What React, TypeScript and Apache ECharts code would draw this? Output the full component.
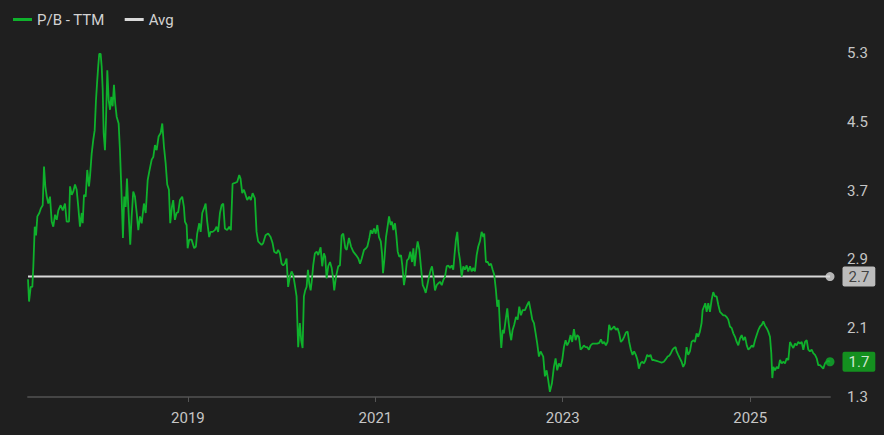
import React, { useEffect, useRef } from "react";
import * as echarts from "echarts";

// P/B - TTM readings: [decimal year, value]
const pbSeries: [number, number][] = [
  [2017.292,2.67],[2017.303,2.41],[2017.321,2.58],[2017.338,2.58],[2017.349,2.82],[2017.364,3.28],[2017.378,3.18],[2017.392,3.40],[2017.413,3.44],[2017.428,3.49],
  [2017.449,3.53],[2017.463,3.98],[2017.477,3.75],[2017.492,3.63],[2017.509,3.55],[2017.527,3.63],[2017.545,3.34],[2017.562,3.28],[2017.581,3.42],[2017.599,3.36],
  [2017.616,3.47],[2017.641,3.53],[2017.663,3.47],[2017.687,3.55],[2017.705,3.34],[2017.730,3.34],[2017.741,3.75],[2017.759,3.65],[2017.776,3.69],[2017.794,3.77],
  [2017.812,3.71],[2017.829,3.51],[2017.847,3.28],[2017.866,3.44],[2017.876,3.32],[2017.890,3.65],[2017.908,3.63],[2017.925,3.94],[2017.943,3.75],[2017.954,3.86],
  [2017.972,4.13],[2017.989,4.29],[2018.004,4.40],[2018.018,4.75],[2018.032,4.99],[2018.043,5.16],[2018.053,5.29],[2018.068,5.29],[2018.079,5.14],[2018.090,4.87],
  [2018.100,4.37],[2018.114,4.17],[2018.125,4.52],[2018.139,5.10],[2018.154,4.75],[2018.168,4.64],[2018.181,4.79],[2018.196,4.68],[2018.210,4.93],[2018.224,4.71],
  [2018.239,4.56],[2018.260,4.48],[2018.274,4.17],[2018.288,3.75],[2018.306,3.15],[2018.320,3.63],[2018.335,3.51],[2018.349,3.84],[2018.363,3.51],[2018.384,3.07],
  [2018.399,3.40],[2018.416,3.69],[2018.434,3.63],[2018.453,3.44],[2018.470,3.24],[2018.488,3.40],[2018.506,3.32],[2018.530,3.55],[2018.549,3.44],[2018.570,3.82],
  [2018.587,3.92],[2018.613,4.06],[2018.630,4.09],[2018.648,4.23],[2018.666,4.17],[2018.687,4.33],[2018.709,4.37],[2018.726,4.48],[2018.744,4.21],[2018.762,4.02],
  [2018.779,3.77],[2018.797,3.71],[2018.811,3.32],[2018.829,3.51],[2018.843,3.59],[2018.861,3.36],[2018.879,3.44],[2018.896,3.45],[2018.915,3.59],[2018.939,3.63],
  [2018.957,3.51],[2018.968,3.34],[2018.986,3.30],[2018.997,3.03],[2019.014,3.13],[2019.039,3.13],[2019.067,3.03],[2019.085,3.05],[2019.099,3.20],[2019.121,3.32],
  [2019.136,3.22],[2019.153,3.44],[2019.171,3.49],[2019.189,3.55],[2019.206,3.34],[2019.227,3.16],[2019.242,3.22],[2019.264,3.22],[2019.288,3.24],[2019.306,3.28],
  [2019.323,3.22],[2019.342,3.44],[2019.360,3.53],[2019.377,3.55],[2019.395,3.26],[2019.419,3.24],[2019.441,3.28],[2019.459,3.24],[2019.477,3.78],[2019.502,3.79],
  [2019.526,3.80],[2019.548,3.88],[2019.562,3.84],[2019.580,3.67],[2019.598,3.71],[2019.616,3.65],[2019.633,3.59],[2019.654,3.63],[2019.672,3.59],[2019.691,3.67],
  [2019.715,3.61],[2019.733,3.22],[2019.750,3.11],[2019.768,3.09],[2019.787,3.07],[2019.804,3.09],[2019.829,3.18],[2019.857,3.20],[2019.883,3.16],[2019.904,3.09],
  [2019.921,2.99],[2019.947,2.97],[2019.964,3.01],[2019.982,2.97],[2020.000,2.85],[2020.017,2.83],[2020.035,2.85],[2020.053,2.91],[2020.070,2.58],[2020.089,2.70],
  [2020.107,2.76],[2020.124,2.72],[2020.142,2.60],[2020.160,2.47],[2020.177,1.88],[2020.195,2.16],[2020.209,1.96],[2020.224,1.87],[2020.238,2.47],[2020.252,2.54],
  [2020.267,2.58],[2020.281,2.78],[2020.295,2.62],[2020.310,2.54],[2020.323,2.66],[2020.337,2.83],[2020.355,2.97],[2020.374,2.99],[2020.391,2.95],[2020.416,3.04],
  [2020.433,2.82],[2020.451,2.97],[2020.465,2.93],[2020.480,2.68],[2020.497,2.82],[2020.516,2.87],[2020.534,2.80],[2020.551,2.66],[2020.561,2.54],[2020.580,2.70],
  [2020.604,2.82],[2020.622,2.83],[2020.640,3.18],[2020.657,3.20],[2020.679,3.03],[2020.694,3.01],[2020.718,3.15],[2020.740,3.05],[2020.764,2.99],[2020.793,2.95],
  [2020.818,2.91],[2020.836,2.85],[2020.854,2.91],[2020.878,3.01],[2020.900,3.03],[2020.914,3.05],[2020.935,3.15],[2020.950,3.24],[2020.967,3.20],[2020.985,3.26],
  [2021.003,3.20],[2021.020,3.30],[2021.038,3.16],[2021.057,3.11],[2021.070,2.97],[2021.081,2.74],[2021.095,2.89],[2021.113,3.16],[2021.127,3.26],[2021.145,3.40],
  [2021.163,3.30],[2021.177,3.34],[2021.191,3.24],[2021.209,3.32],[2021.223,3.18],[2021.238,2.99],[2021.255,2.93],[2021.273,2.95],[2021.287,2.83],[2021.305,2.60],
  [2021.319,2.70],[2021.337,2.89],[2021.355,2.91],[2021.372,2.99],[2021.391,2.87],[2021.405,3.03],[2021.419,2.82],[2021.437,3.01],[2021.451,3.11],[2021.469,3.01],
  [2021.487,2.80],[2021.505,2.60],[2021.522,2.56],[2021.537,2.51],[2021.554,2.60],[2021.572,2.70],[2021.590,2.78],[2021.604,2.82],[2021.618,2.72],[2021.636,2.54],
  [2021.654,2.60],[2021.671,2.62],[2021.689,2.64],[2021.708,2.60],[2021.725,2.66],[2021.743,2.70],[2021.761,2.82],[2021.778,2.83],[2021.796,2.80],[2021.814,2.83],
  [2021.831,2.78],[2021.846,2.97],[2021.860,3.13],[2021.874,3.22],[2021.889,2.99],[2021.903,2.89],[2021.921,2.70],[2021.938,2.82],[2021.956,2.78],[2021.974,2.83],
  [2021.991,2.76],[2022.010,2.82],[2022.028,2.76],[2022.045,2.80],[2022.063,2.76],[2022.081,2.95],[2022.098,3.05],[2022.116,3.11],[2022.134,3.22],[2022.152,3.16],
  [2022.162,3.20],[2022.180,2.87],[2022.199,2.87],[2022.216,2.83],[2022.234,2.85],[2022.252,2.78],[2022.269,2.72],[2022.287,2.54],[2022.301,2.35],[2022.316,2.43],
  [2022.330,2.12],[2022.344,1.87],[2022.359,2.08],[2022.372,2.04],[2022.391,2.20],[2022.408,2.33],[2022.423,2.16],[2022.437,2.04],[2022.450,1.96],[2022.465,2.08],
  [2022.482,2.14],[2022.501,2.23],[2022.519,2.20],[2022.536,2.35],[2022.554,2.25],[2022.572,2.31],[2022.597,2.31],[2022.621,2.37],[2022.639,2.41],[2022.657,2.31],
  [2022.675,2.20],[2022.693,2.16],[2022.711,2.04],[2022.728,1.92],[2022.746,1.77],[2022.764,1.83],[2022.792,1.77],[2022.810,1.54],[2022.828,1.61],[2022.845,1.50],
  [2022.863,1.36],[2022.885,1.46],[2022.906,1.65],[2022.924,1.75],[2022.941,1.61],[2022.959,1.69],[2022.978,1.65],[2022.995,1.73],[2023.013,1.88],[2023.031,1.96],
  [2023.048,1.90],[2023.066,1.94],[2023.084,2.02],[2023.101,1.94],[2023.120,2.09],[2023.138,1.96],[2023.155,2.02],[2023.173,2.00],[2023.191,1.85],[2023.208,1.87],
  [2023.226,1.90],[2023.244,1.88],[2023.261,1.88],[2023.280,1.85],[2023.298,1.90],[2023.319,1.92],[2023.344,1.92],[2023.368,1.92],[2023.390,1.93],[2023.408,1.97],
  [2023.426,1.92],[2023.443,1.94],[2023.461,1.90],[2023.479,1.94],[2023.496,2.14],[2023.514,2.08],[2023.533,2.10],[2023.550,2.12],[2023.568,2.08],[2023.586,2.10],
  [2023.603,2.04],[2023.621,1.94],[2023.639,1.96],[2023.656,2.00],[2023.675,2.05],[2023.693,2.06],[2023.710,1.94],[2023.728,1.85],[2023.746,1.79],[2023.763,1.83],
  [2023.781,1.79],[2023.799,1.73],[2023.813,1.63],[2023.831,1.69],[2023.848,1.71],[2023.867,1.69],[2023.885,1.73],[2023.902,1.79],[2023.920,1.77],[2023.938,1.79],
  [2023.955,1.73],[2023.973,1.73],[2024.002,1.72],[2024.030,1.71],[2024.056,1.70],[2024.080,1.71],[2024.101,1.74],[2024.120,1.77],[2024.137,1.78],[2024.155,1.81],
  [2024.173,1.85],[2024.190,1.87],[2024.205,1.88],[2024.216,1.83],[2024.233,1.79],[2024.251,1.75],[2024.269,1.71],[2024.286,1.65],[2024.304,1.69],[2024.322,1.88],
  [2024.339,1.79],[2024.358,1.83],[2024.376,1.94],[2024.393,1.96],[2024.411,1.94],[2024.429,2.04],[2024.446,2.00],[2024.464,2.06],[2024.482,2.16],[2024.493,2.31],
  [2024.507,2.35],[2024.521,2.39],[2024.536,2.29],[2024.553,2.39],[2024.571,2.29],[2024.589,2.43],[2024.606,2.52],[2024.624,2.47],[2024.642,2.47],[2024.660,2.37],
  [2024.678,2.29],[2024.696,2.27],[2024.713,2.25],[2024.731,2.25],[2024.749,2.23],[2024.766,2.20],[2024.784,2.12],[2024.803,2.10],[2024.820,2.04],[2024.838,2.00],
  [2024.856,1.94],[2024.873,1.90],[2024.891,1.98],[2024.909,2.02],[2024.926,1.96],[2024.945,2.00],[2024.963,1.90],[2024.980,1.85],[2024.998,1.87],[2025.016,1.90],
  [2025.033,1.88],[2025.051,1.96],[2025.069,2.02],[2025.087,2.08],[2025.105,2.12],[2025.123,2.14],[2025.140,2.18],[2025.158,2.13],[2025.176,2.10],[2025.193,2.06],
  [2025.211,2.00],[2025.225,1.81],[2025.236,1.52],[2025.247,1.65],[2025.265,1.61],[2025.283,1.65],[2025.300,1.63],[2025.318,1.73],[2025.336,1.69],[2025.353,1.71],
  [2025.371,1.69],[2025.390,1.75],[2025.407,1.73],[2025.425,1.94],[2025.443,1.90],[2025.460,1.87],[2025.478,1.92],[2025.496,1.90],[2025.513,1.94],[2025.532,1.92],
  [2025.550,1.94],[2025.567,1.85],[2025.585,1.94],[2025.603,1.96],[2025.620,1.85],[2025.638,1.83],[2025.656,1.85],[2025.673,1.81],[2025.692,1.79],[2025.710,1.75],
  [2025.727,1.67],[2025.745,1.67],[2025.763,1.65],[2025.780,1.63],[2025.798,1.69],[2025.816,1.71],[2025.834,1.72],[2025.852,1.71],
];

const avgValue = 2.7;
const seriesNames = ["P/B - TTM", "Avg"];
const xTickYears = [2019, 2021, 2023, 2025];
const yMin = 1.3;
const yMax = 5.3;
const yStep = 0.8;

const GREEN = "#0fb12c";
const AVG = "#d9d9d9";
const TEXT = "#c6c6c6";
const BG = "#1f1f1f";
const FONT = "Roboto, 'Noto Sans', sans-serif";

function toTs(y: number): number {
  const yr = Math.floor(y);
  const a = Date.UTC(yr, 0, 1);
  const b = Date.UTC(yr + 1, 0, 1);
  return a + (y - yr) * (b - a);
}

export default function App() {
  const ref = useRef<HTMLDivElement>(null);

  useEffect(() => {
    if (!ref.current) return;
    document.body.style.margin = "0";
    document.body.style.background = BG;
    const chart = echarts.init(ref.current, undefined, { renderer: "svg" });

    const pbData = pbSeries.map(([d, v]) => [toTs(d), v]);
    const startTs = pbData[0][0];
    const endTs = pbData[pbData.length - 1][0];
    const lastVal = pbData[pbData.length - 1][1];
    const tickTs = xTickYears.map((y) => Date.UTC(y, 0, 1));

    const boxLabel = {
      show: true,
      position: "right",
      distance: 8,
      fontSize: 15,
      fontFamily: FONT,
      padding: [2, 6, 1, 6],
      lineHeight: 17,
      borderRadius: 2,
      formatter: (p: any) => Number(p.value[1]).toFixed(1),
    };

    chart.setOption({
      animation: false,
      backgroundColor: BG,
      textStyle: { fontFamily: FONT },
      legend: {
        data: seriesNames,
        left: 8,
        top: 7,
        icon: "rect",
        itemWidth: 19,
        itemHeight: 3,
        itemGap: 20,
        textStyle: { color: "#d2d2d2", fontSize: 15, fontFamily: FONT },
      },
      grid: { left: 28, right: 54, top: 53, bottom: 38 },
      xAxis: {
        type: "value",
        min: startTs,
        max: endTs,
        axisLine: { show: true, lineStyle: { color: "#454545", width: 2 } },
        axisTick: {
          show: true,
          customValues: tickTs,
          length: 5,
          lineStyle: { color: "#555555" },
        },
        axisLabel: {
          customValues: tickTs,
          margin: 13,
          color: TEXT,
          fontSize: 15,
          fontFamily: FONT,
          formatter: (v: number) => String(new Date(v).getUTCFullYear()),
        },
        splitLine: { show: false },
      },
      yAxis: {
        type: "value",
        position: "right",
        min: yMin,
        max: yMax,
        interval: yStep,
        axisLine: { show: false },
        axisTick: { show: false },
        splitLine: { show: false },
        axisLabel: {
          margin: 17,
          color: TEXT,
          fontSize: 15,
          fontFamily: FONT,
          formatter: (v: number) => v.toFixed(1),
        },
      },
      series: [
        {
          name: seriesNames[0],
          type: "line",
          data: pbData,
          showSymbol: false,
          symbol: "none",
          color: GREEN,
          lineStyle: { color: GREEN, width: 1.8 },
          z: 3,
        },
        {
          name: seriesNames[1],
          type: "line",
          data: [
            [startTs, avgValue],
            [endTs, avgValue],
          ],
          showSymbol: false,
          symbol: "none",
          color: AVG,
          lineStyle: { color: AVG, width: 2 },
          z: 2,
        },
        {
          name: "end",
          type: "scatter",
          symbol: "circle",
          symbolSize: 9,
          z: 4,
          data: [
            {
              value: [endTs, avgValue],
              itemStyle: { color: AVG },
              label: { ...boxLabel, backgroundColor: "#e4e4e4", color: "#1f1f1f" },
            },
            {
              value: [endTs, lastVal],
              itemStyle: { color: GREEN },
              label: { ...boxLabel, backgroundColor: "#12ad1f", color: "#ffffff" },
            },
          ],
        },
      ],
    });

    return () => chart.dispose();
  }, []);

  return (
    <div
      ref={ref}
      style={{ position: "fixed", left: 0, top: 0, width: 884, height: 435, background: BG }}
    />
  );
}
